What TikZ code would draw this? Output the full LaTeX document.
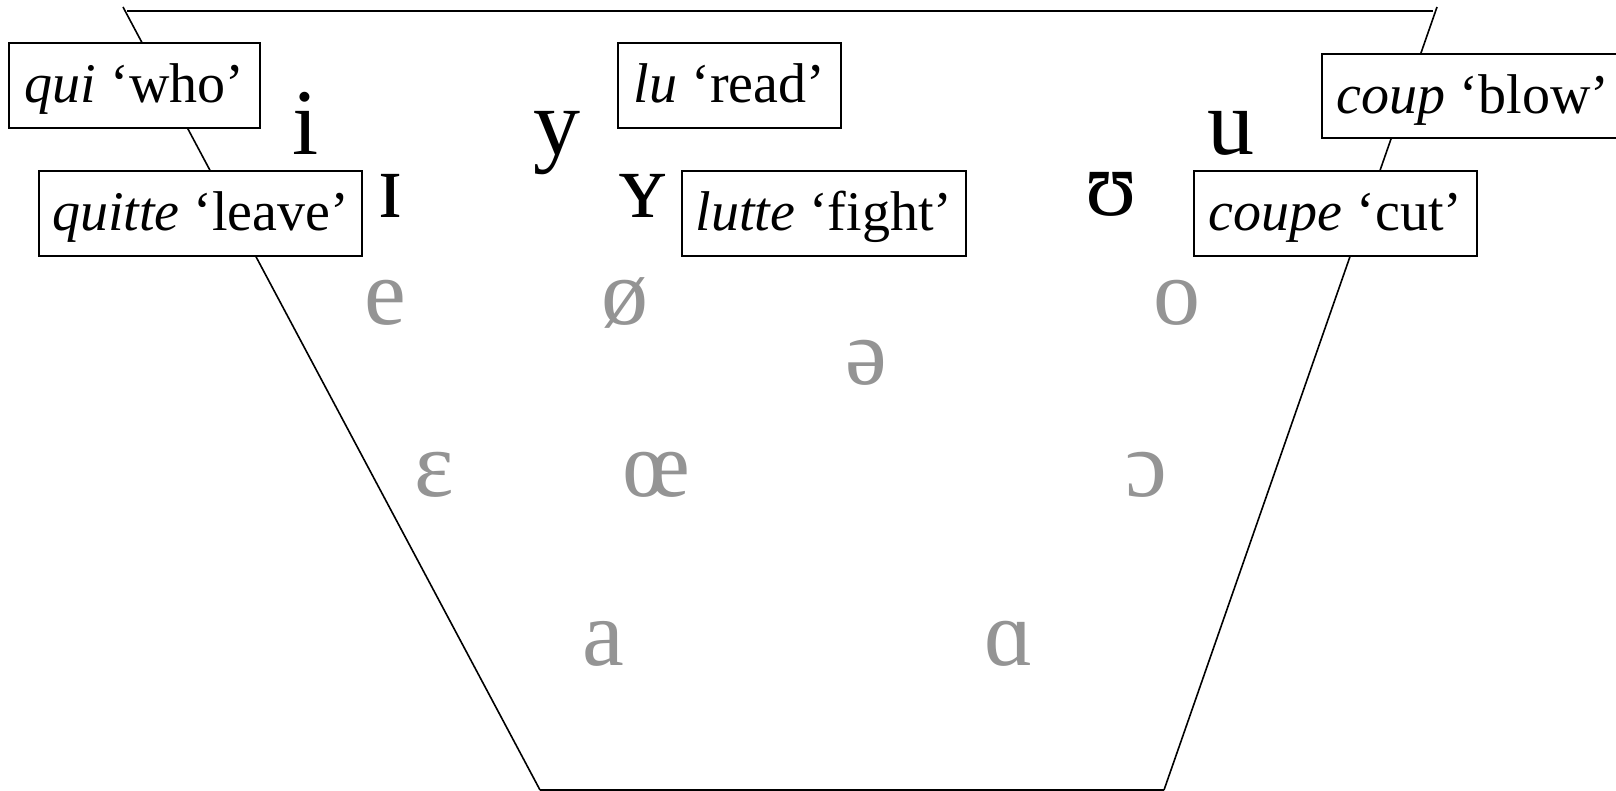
\documentclass[tikz,border=0pt]{standalone}
\usepackage{fontspec}
\setmainfont{Liberation Serif}
\definecolor{vgray}{RGB}{148,148,148}
\tikzset{
  edge/.style={line width=1.6pt, black},
  wbox/.style={draw, fill=white, line width=1.6pt, inner sep=0pt,
    minimum height=85pt, text height=44pt, text depth=9pt,
    font=\fontsize{56}{60}\selectfont},
  vbig/.style={anchor=base, inner sep=0pt, font=\fontsize{94}{96}\selectfont},
  vgrey/.style={vbig, text=vgray}
}
\begin{document}
\begin{tikzpicture}[x=1pt,y=-1pt]
\clip (0,0) rectangle (1616,791);
\fill[white] (0,0) rectangle (1616,791);
% trapezoid
\coordinate (tlx) at (123,7);
\coordinate (tl) at (127,11);
\coordinate (tr) at (1433,11);
\coordinate (trx) at (1437,7);
\coordinate (bl) at (540,790);
\coordinate (br) at (1164,790);
\draw[edge] (tl) -- (tr);
\draw[edge] (tlx) -- (bl);
\draw[edge] (trx) -- (br);
\draw[edge] (bl) -- (br);
% word boxes
\node[wbox, minimum width=251pt] (qui) at (134.5,85.5) {\textit{qui} ‘who’};
\node[wbox, minimum width=323pt] (quitte) at (200.5,213.5) {\textit{quitte} ‘leave’};
\node[wbox, minimum width=223pt] (lu) at (729.5,85.5) {\textit{lu} ‘read’};
\node[wbox, minimum width=284pt] (lutte) at (824,213.5) {\textit{lutte} ‘fight’};
\node[wbox, minimum width=302pt, minimum height=84pt] (coup) at (1473,96) {\textit{coup} ‘blow’};
\node[wbox, minimum width=283pt] (coupe) at (1335.5,213.5) {\textit{coupe} ‘cut’};
% high vowels
\node[vbig] (vi) at (306,155) {i};
\node[vbig] (vI) at (391,218) {ɪ};
\node[vbig] (vy) at (557,155) {y};
\node[vbig] (vY) at (643,218) {ʏ};
\node[vbig] (vu) at (1231,155) {u};
\node[vbig] (vU) at (1111,216) {ʊ};
% grey vowels
\node[vgrey] (ve) at (385.5,325) {e};
\node[vgrey] (voe) at (625,325) {ø};
\node[vgrey] (vo) at (1176.5,325) {o};
\node[vgrey] (vschwa) at (866,384) {ə};
\node[vgrey] (veps) at (434.5,496) {ɛ};
\node[vgrey] (voelig) at (656,496) {œ};
\node[vgrey] (vopeno) at (1146,496) {ɔ};
\node[vgrey] (va) at (603,665) {a};
\node[vgrey] (valpha) at (1009.5,665) {ɑ};
\end{tikzpicture}
\end{document}
